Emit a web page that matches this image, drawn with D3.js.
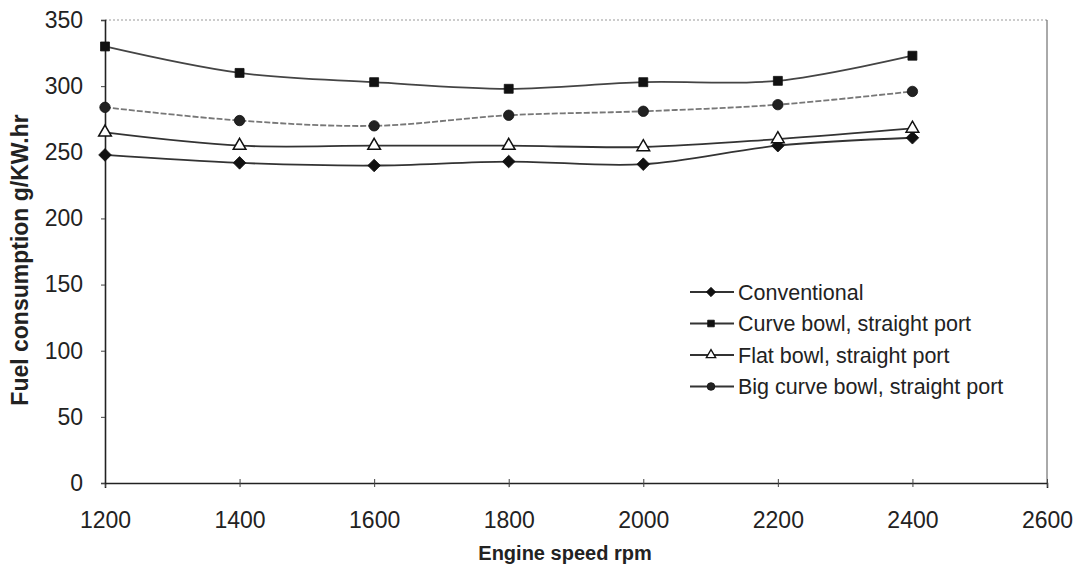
<!DOCTYPE html>
<html>
<head>
<meta charset="utf-8">
<script src="https://cdn.jsdelivr.net/npm/d3@7"></script>
<style>
  html, body { margin: 0; padding: 0; background: #fff; }
  svg { display: block; font-family: Arial, "Liberation Sans", sans-serif; }
</style>
</head>
<body>
<svg id="chart" width="1076" height="567"></svg>
<script>
// Engine speed (rpm) at which fuel consumption was measured
const speeds = [1200, 1400, 1600, 1800, 2000, 2200, 2400];

// Brake specific fuel consumption, g/kW.hr
const conventional = [248, 242, 240, 243, 241, 255, 261];
const curveBowl    = [330, 310, 303, 298, 303, 304, 323];
const flatBowl     = [265, 255, 255, 255, 254, 260, 268];
const bigCurveBowl = [284, 274, 270, 278, 281, 286, 296];

const xTicks = [1200, 1400, 1600, 1800, 2000, 2200, 2400, 2600];
const yTicks = [0, 50, 100, 150, 200, 250, 300, 350];

const seriesNames = [
  "Conventional",
  "Curve bowl, straight port",
  "Flat bowl, straight port",
  "Big curve bowl, straight port"
];

// Square turned 45 degrees gives the broad diamond marker
const diamond = {
  draw(ctx, size) {
    const r = Math.sqrt(size / 2);
    ctx.moveTo(0, -r); ctx.lineTo(r, 0); ctx.lineTo(0, r); ctx.lineTo(-r, 0); ctx.closePath();
  }
};

const series = [
  { name: seriesNames[0], values: conventional, symbol: diamond,          size: 80, fill: "#111", line: "#333", dash: null },
  { name: seriesNames[1], values: curveBowl,    symbol: d3.symbolSquare,  size: 80, fill: "#111", line: "#444", dash: null },
  { name: seriesNames[2], values: flatBowl,     symbol: d3.symbolTriangle, size: 70, fill: "#fff", line: "#333", dash: null },
  { name: seriesNames[3], values: bigCurveBowl, symbol: d3.symbolCircle,  size: 85, fill: "#222", line: "#777", dash: "6,2" }
];

const svg = d3.select("#chart");
const plot = { left: 105, right: 1047, top: 20, bottom: 483 };

const x = d3.scaleLinear().domain([1200, 2600]).range([plot.left, plot.right]);
const y = d3.scaleLinear().domain([0, 350]).range([plot.bottom, plot.top]);

// Frame: dotted top edge, thin right edge
svg.append("line")
  .attr("x1", plot.left).attr("x2", plot.right)
  .attr("y1", plot.top).attr("y2", plot.top)
  .attr("stroke", "#999").attr("stroke-width", 1).attr("stroke-dasharray", "2,2");
svg.append("line")
  .attr("x1", plot.right).attr("x2", plot.right)
  .attr("y1", plot.top).attr("y2", plot.bottom)
  .attr("stroke", "#555").attr("stroke-width", 1);

// Axes
const xAxis = svg.append("g")
  .attr("transform", `translate(0,${plot.bottom})`)
  .call(d3.axisBottom(x).tickValues(xTicks).tickFormat(d3.format("d")).tickSize(5).tickPadding(24));
const yAxis = svg.append("g")
  .attr("transform", `translate(${plot.left},0)`)
  .call(d3.axisLeft(y).tickValues(yTicks).tickFormat(d3.format("d")).tickSize(4).tickPadding(18));

[xAxis, yAxis].forEach(g => {
  g.select(".domain").attr("stroke", "#222").attr("stroke-width", 1.6);
  g.selectAll(".tick line").attr("stroke", "#444");
  g.selectAll(".tick text")
    .attr("font-size", 23)
    .attr("fill", "#222")
    .attr("font-family", "Arial, 'Liberation Sans', sans-serif");
});
xAxis.selectAll(".tick line").attr("y1", -4).attr("y2", 4);

// Axis titles
svg.append("text")
  .attr("x", 565).attr("y", 560)
  .attr("text-anchor", "middle")
  .attr("font-size", 20).attr("font-weight", "bold").attr("fill", "#222")
  .text("Engine speed rpm");
svg.append("text")
  .attr("transform", "translate(28,260) rotate(-90)")
  .attr("text-anchor", "middle")
  .attr("font-size", 23).attr("font-weight", "bold").attr("fill", "#222")
  .text("Fuel consumption g/KW.hr");

// Smoothed series lines
const line = d3.line()
  .x((d, i) => x(speeds[i]))
  .y(d => y(d))
  .curve(d3.curveCatmullRom.alpha(0.5));

const layer = svg.append("g");
series.forEach(s => {
  layer.append("path")
    .datum(s.values)
    .attr("d", line)
    .attr("fill", "none")
    .attr("stroke", s.line)
    .attr("stroke-width", 1.8)
    .attr("stroke-dasharray", s.dash);
});

// Markers
series.forEach(s => {
  layer.selectAll(null)
    .data(s.values)
    .join("path")
    .attr("transform", (d, i) => `translate(${x(speeds[i])},${y(d)})`)
    .attr("d", d3.symbol().type(s.symbol).size(s.size))
    .attr("fill", s.fill)
    .attr("stroke", "#111")
    .attr("stroke-width", s.fill === "#fff" ? 1.5 : 0.8);
});

// Legend
const legend = svg.append("g").attr("transform", "translate(690,292)");
series.forEach((s, i) => {
  const g = legend.append("g").attr("transform", `translate(0,${i * 31.5})`);
  g.append("line")
    .attr("x1", 0).attr("x2", 44).attr("y1", 0).attr("y2", 0)
    .attr("stroke", "#333").attr("stroke-width", 1.8);
  g.append("path")
    .attr("transform", "translate(21,0)")
    .attr("d", d3.symbol().type(s.symbol).size(s.size * 0.55))
    .attr("fill", s.fill)
    .attr("stroke", "#111")
    .attr("stroke-width", s.fill === "#fff" ? 1.3 : 0.8);
  g.append("text")
    .attr("x", 48).attr("y", 7.5)
    .attr("font-size", 21.5).attr("fill", "#222")
    .text(s.name);
});
</script>
</body>
</html>
